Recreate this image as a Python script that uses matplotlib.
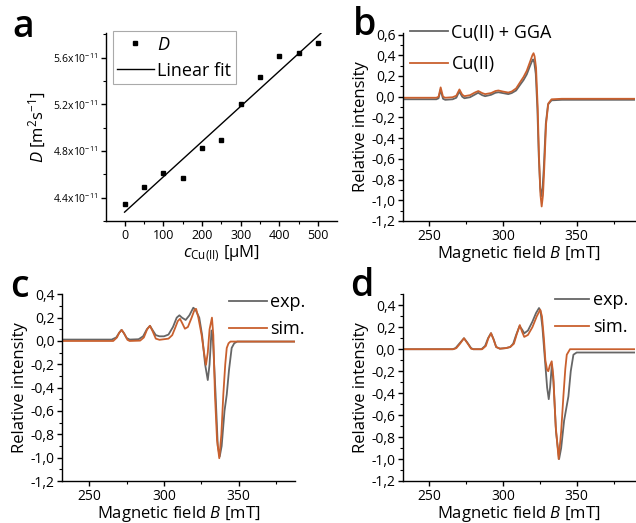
import numpy as np
import matplotlib
matplotlib.use("Agg")
import matplotlib.pyplot as plt
from matplotlib.ticker import FuncFormatter, MultipleLocator
from matplotlib.lines import Line2D

plt.rcParams['font.family'] = ['Open Sans', 'DejaVu Sans']
plt.rcParams['mathtext.fontset'] = 'custom'
plt.rcParams['mathtext.rm'] = 'Open Sans'
plt.rcParams['mathtext.it'] = 'Open Sans:italic'

# ---------------- data ----------------
# panel a: diffusion coefficient vs Cu(II) concentration (D in 1e-11 m^2/s)
conc = [0, 50, 100, 150, 200, 250, 300, 350, 400, 450, 500]
D_vals = [4.344, 4.489, 4.611, 4.571, 4.825, 4.891, 5.200, 5.429, 5.611, 5.643, 5.725]

# panel b: EPR spectra
b_cu_B = [232, 255, 256.5, 257.9, 259.5, 261, 266, 268.5, 270.6, 272.5, 274, 277.8, 281,
          283.4, 286, 288, 292, 295, 297, 300, 303.7, 306, 309, 311.7, 314, 316.2, 318.5,
          320, 320.8, 321.5, 322.5, 323.6, 324.5, 325.5, 326.3, 327.2, 327.9, 329.3, 330.8,
          333, 340, 390]
b_cu_I = [-0.01, -0.01, 0.0, 0.09, 0.0, -0.01, -0.005, 0.01, 0.07, 0.02, 0.005, 0.015, 0.04,
          0.055, 0.035, 0.025, 0.035, 0.055, 0.06, 0.05, 0.04, 0.05, 0.08, 0.14, 0.19, 0.25, 0.34,
          0.40, 0.42, 0.39, 0.28, -0.10, -0.58, -0.95, -1.06, -0.95, -0.74, -0.26, -0.065,
          -0.025, -0.02, -0.02]
b_gga_B = [232, 255, 256.5, 257.8, 259.5, 261, 266, 268.5, 270.5, 272.5, 274, 277.8, 281,
           283.3, 286, 288, 292, 295, 297, 300, 303.7, 306, 309, 311.7, 314, 316.2, 318.5,
           319.8, 320.5, 321.3, 322.3, 323.4, 324.3, 325.3, 326.0, 326.9, 327.7, 329.1, 330.6,
           333, 340, 390]
b_gga_I = [-0.025, -0.025, -0.015, 0.065, -0.02, -0.03, -0.025, -0.01, 0.05, 0.0, -0.015, -0.005, 0.02,
           0.038, 0.015, 0.005, 0.018, 0.038, 0.043, 0.035, 0.025, 0.035, 0.06, 0.115, 0.16, 0.215, 0.30,
           0.345, 0.36, 0.33, 0.22, -0.12, -0.56, -0.88, -0.96, -0.88, -0.70, -0.26, -0.075,
           -0.035, -0.03, -0.03]

# panel c
c_exp_B = [232, 265, 268, 270, 271.5, 273, 275, 277, 283, 286, 288.5, 290.6, 292.5, 294.5,
           297, 300, 303, 306, 308.5, 310.3, 312, 314.5, 317, 319.6, 321, 323.6, 325.5, 327.5,
           329.3, 330.5, 331.8, 332.8, 334.5, 336, 337.3, 338.6, 340.5, 342, 343.5, 345.3, 347,
           349, 388]
c_exp_I = [0.012, 0.012, 0.03, 0.07, 0.095, 0.07, 0.025, 0.012, 0.015, 0.04, 0.10, 0.13, 0.09, 0.05,
           0.04, 0.04, 0.055, 0.12, 0.20, 0.22, 0.20, 0.18, 0.22, 0.285, 0.27, 0.20, 0.05, -0.20,
           -0.335, -0.20, 0.09, 0.0, -0.45, -0.90, -0.99, -0.90, -0.60, -0.46, -0.25, -0.06, -0.02,
           -0.005, -0.005]
c_sim_B = [232, 266, 268.5, 270, 271.7, 273.5, 275.5, 277, 284, 286.5, 288.7, 290.6, 292.5, 294.5,
           297, 303, 305.5, 307.4, 309.2, 310.7, 312.3, 314, 316, 318.5, 320.5, 321.5, 323, 325.2,
           326.8, 328.1, 329.3, 330.5, 332.1, 333, 334.1, 335.5, 337, 338.4, 339.7, 341, 342,
           343.2, 344.5, 388]
c_sim_I = [0.0, 0.0, 0.03, 0.07, 0.095, 0.06, 0.01, 0.0, 0.003, 0.03, 0.10, 0.13, 0.08, 0.02,
           0.01, 0.02, 0.05, 0.11, 0.17, 0.19, 0.15, 0.105, 0.12, 0.20, 0.27, 0.275, 0.20, 0.05,
           -0.10, -0.205, -0.10, 0.10, 0.20, 0.05, -0.46, -0.85, -1.005, -0.80, -0.46, -0.20, -0.06,
           -0.02, -0.005, -0.005]

# panel d
d_exp_B = [232, 266, 268, 270.5, 273.7, 276, 278.5, 280, 285.5, 288, 290, 292, 293.8, 295.5,
           298, 302, 305, 307, 309, 311.3, 313, 314.5, 317, 320, 322.5, 324.5, 325.5, 326.8,
           328.6, 330, 331.1, 332, 333.2, 334.3, 336, 338.1, 339.5, 341.5, 344.4, 346, 347.8,
           350, 390]
d_exp_I = [0.0, 0.0, 0.01, 0.05, 0.10, 0.06, 0.01, 0.0, 0.0, 0.03, 0.10, 0.146, 0.09, 0.02,
           0.005, 0.01, 0.02, 0.05, 0.13, 0.21, 0.18, 0.145, 0.17, 0.25, 0.33, 0.375, 0.35, 0.20,
           -0.11, -0.35, -0.455, -0.35, -0.14, -0.30, -0.75, -1.0, -0.90, -0.65, -0.43, -0.20, -0.05,
           -0.03, -0.03]
d_sim_B = [232, 266.5, 268.5, 271, 273.7, 276, 278.5, 280, 286, 288.5, 290.2, 292, 293.8, 295.5,
           298, 302, 305, 307.5, 309.5, 311.5, 313, 314.5, 317, 320, 323, 325.3, 326.5, 327.8,
           328.8, 330, 330.8, 331.8, 333.1, 334.2, 335.8, 337.8, 339.5, 341, 342.3, 343.3, 345.5,
           390]
d_sim_I = [0.0, 0.0, 0.01, 0.05, 0.10, 0.055, 0.005, 0.0, 0.0, 0.03, 0.10, 0.146, 0.085, 0.02,
           0.005, 0.01, 0.02, 0.05, 0.14, 0.22, 0.16, 0.112, 0.13, 0.20, 0.30, 0.36, 0.30, 0.10,
           -0.10, -0.19, -0.20, -0.15, -0.11, -0.25, -0.70, -1.0, -0.75, -0.43, -0.18, -0.05, 0.0,
           0.0]

GRAY = '#666666'
ORANGE = '#c9602e'

fig = plt.figure(figsize=(6.36, 5.23), dpi=100)
W, H = 636.0, 523.0

def rect(l, r, t, b):
    return [l / W, (H - b) / H, (r - l) / W, (b - t) / H]

def style(ax, tick_fs):
    for s in ['top', 'right']:
        ax.spines[s].set_visible(False)
    for s in ['left', 'bottom']:
        ax.spines[s].set_linewidth(1.0)
    ax.tick_params(which='major', direction='out', length=3.5, width=1.0, labelsize=tick_fs, pad=2)
    ax.tick_params(which='minor', direction='out', length=2, width=0.8)

comma = FuncFormatter(lambda v, p: f"{v:.1f}".replace('.', ',').replace('−', '-'))

# ---------------- panel a ----------------
axa = fig.add_axes(rect(106, 337, 33, 221))
style(axa, 7.5)
slope, icpt = np.polyfit(conc, D_vals, 1)
xf = np.array([0, 520])
axa.plot(xf, slope * xf + icpt, color='black', lw=1.0, label='Linear fit')
axa.plot(conc, D_vals, 's', color='black', ms=3.5, label=r'$\it{D}$', zorder=3)
axa.set_xlim(-48, 549)
axa.set_ylim(4.2, 5.81)
axa.xaxis.set_major_locator(MultipleLocator(100))
axa.xaxis.set_minor_locator(MultipleLocator(50))
axa.yaxis.set_major_locator(MultipleLocator(0.4))
axa.yaxis.set_minor_locator(MultipleLocator(0.2))
axa.yaxis.set_major_formatter(FuncFormatter(lambda v, p: f"{v:.1f}x10$^{{-11}}$"))
axa.tick_params(axis='x', labelsize=9)
axa.set_xlabel(r'$\it{c}_{\rm Cu(II)}$ [µM]', fontsize=12, labelpad=1)
axa.set_ylabel(r'$\it{D}$ [m$^2$s$^{-1}$]', fontsize=12, labelpad=4)
h = [Line2D([], [], ls='none', marker='s', color='black', ms=3.5),
     Line2D([], [], color='black', lw=1.0)]
leg = axa.legend(h, [r'$\it{D}$', 'Linear fit'], loc='upper left', bbox_to_anchor=(0.03, 1.01),
                 borderaxespad=0, fancybox=False, edgecolor='#aaaaaa', fontsize=13,
                 handlelength=2.0, handletextpad=0.2, borderpad=0.25, labelspacing=0.45,
                 framealpha=1)
leg.get_frame().set_linewidth(0.8)
fig.text(12 / W, 1 - 37 / H, 'a', fontsize=27, fontweight='semibold', ha='left', va='baseline')

# ---------------- spectra panels ----------------
def spec_axes(r, ylim):
    ax = fig.add_axes(r)
    style(ax, 10)
    ax.xaxis.set_major_locator(MultipleLocator(50))
    ax.xaxis.set_minor_locator(MultipleLocator(25))
    ax.yaxis.set_major_locator(MultipleLocator(0.2))
    ax.yaxis.set_minor_locator(MultipleLocator(0.1))
    ax.yaxis.set_major_formatter(comma)
    ax.set_ylim(*ylim)
    ax.set_xlabel(r'Magnetic field $\it{B}$ [mT]', fontsize=12, labelpad=0)
    ax.set_ylabel('Relative intensity', fontsize=12, labelpad=2)
    return ax

axb = spec_axes(rect(403, 635, 33, 221), (-1.2, 0.615))
axb.plot(b_gga_B, b_gga_I, color=GRAY, lw=1.3, label='Cu(II) + GGA')
axb.plot(b_cu_B, b_cu_I, color=ORANGE, lw=1.3, label='Cu(II)')
axb.set_xlim(232.4, 389.5)
axb.legend(loc='upper left', bbox_to_anchor=(0.03, 1.05), frameon=False, fontsize=13,
           handlelength=2.1, handletextpad=0.2, borderpad=0, borderaxespad=0, labelspacing=0.75)
fig.text(353 / W, 1 - 35 / H, 'b', fontsize=27, fontweight='semibold', ha='left', va='baseline')

axc = spec_axes(rect(62.3, 295, 294.3, 481), (-1.2, 0.4))
axc.plot(c_exp_B, c_exp_I, color=GRAY, lw=1.3, label='exp.')
axc.plot(c_sim_B, c_sim_I, color=ORANGE, lw=1.3, label='sim.')
axc.set_xlim(231.9, 387.7)
axc.legend(loc='upper left', bbox_to_anchor=(0.716, 1.005), frameon=False, fontsize=13,
           handlelength=2.1, handletextpad=0.2, borderpad=0, borderaxespad=0, labelspacing=0.5)
fig.text(10 / W, 1 - 297 / H, 'c', fontsize=27, fontweight='semibold', ha='left', va='baseline')

axd = spec_axes(rect(403, 635, 294.3, 481), (-1.2, 0.5))
axd.plot(d_exp_B, d_exp_I, color=GRAY, lw=1.3, label='exp.')
axd.plot(d_sim_B, d_sim_I, color=ORANGE, lw=1.3, label='sim.')
axd.set_xlim(232.4, 389.5)
axd.legend(loc='upper left', bbox_to_anchor=(0.655, 1.015), frameon=False, fontsize=13,
           handlelength=1.9, handletextpad=0.2, borderpad=0, borderaxespad=0, labelspacing=0.48)
fig.text(350 / W, 1 - 296 / H, 'd', fontsize=27, fontweight='semibold', ha='left', va='baseline')

fig.savefig('out.png', dpi=100)
